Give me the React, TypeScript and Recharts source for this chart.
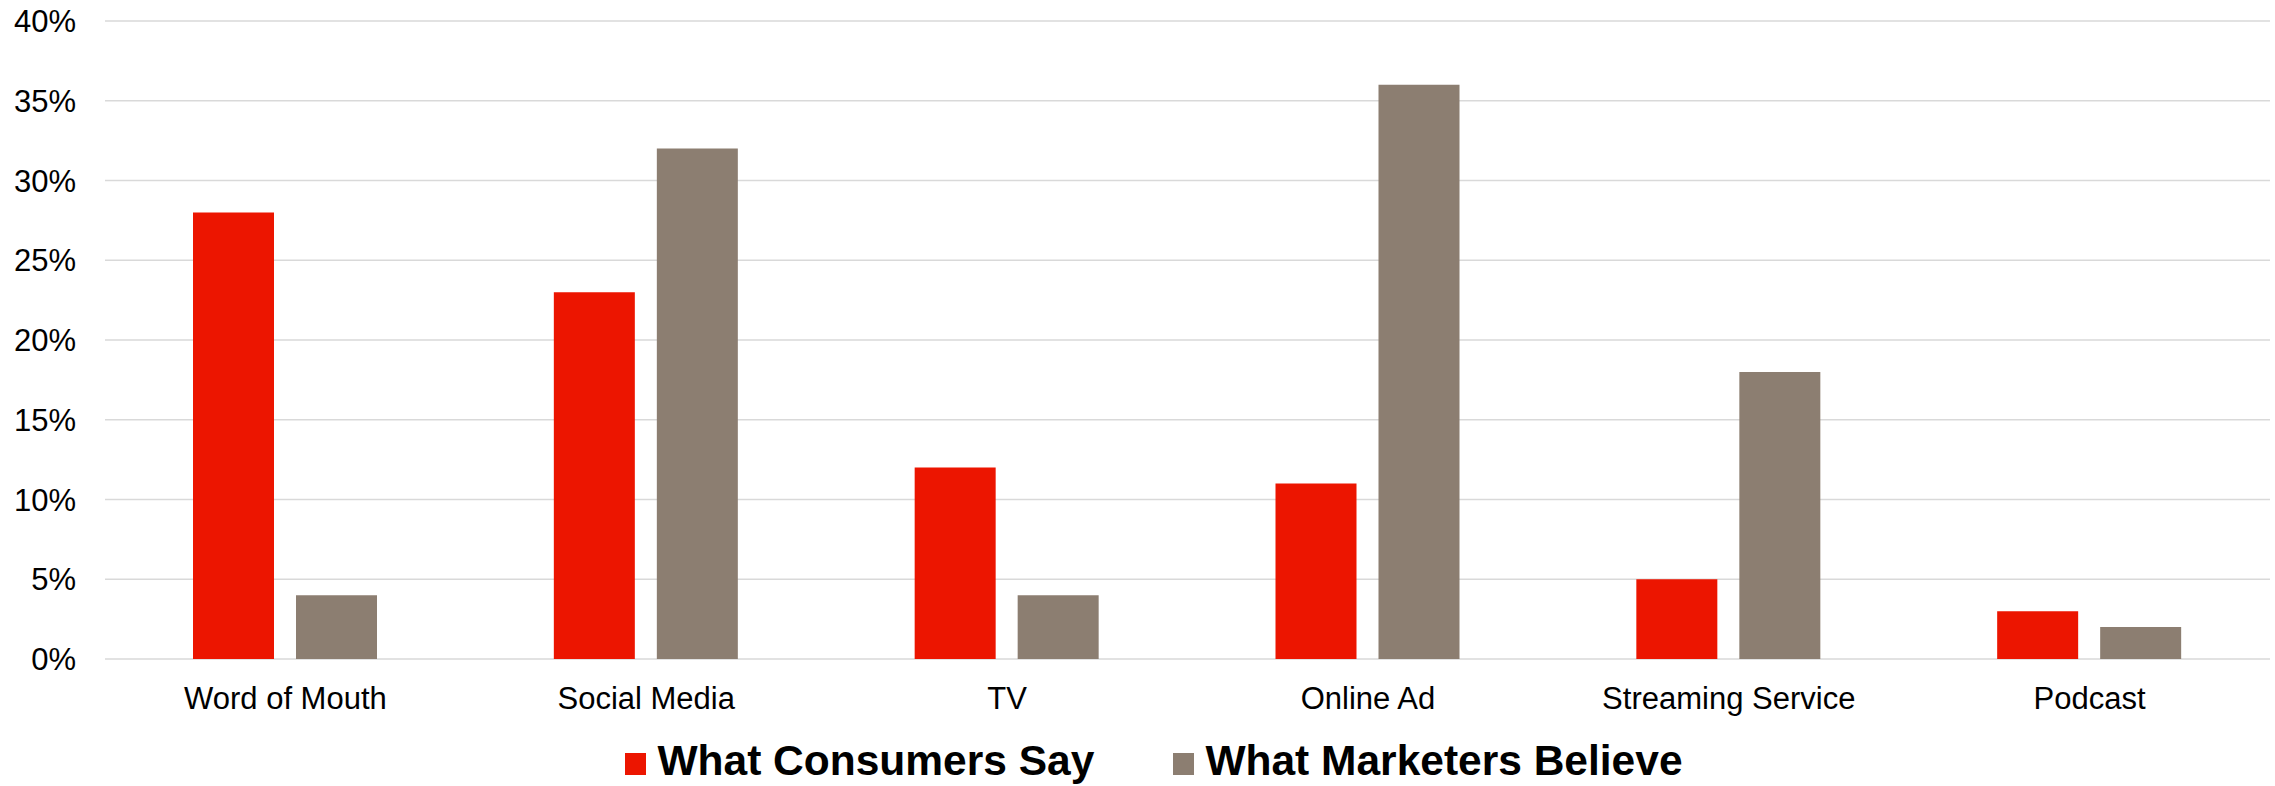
import React from "react";
import { BarChart, Bar, XAxis, YAxis, CartesianGrid, Legend } from "recharts";

const channels = ["Word of Mouth", "Social Media", "TV", "Online Ad", "Streaming Service", "Podcast"];
const consumersSay = [28, 23, 12, 11, 5, 3];
const marketersBelieve = [4, 32, 4, 36, 18, 2];
const yTicks = [0, 5, 10, 15, 20, 25, 30, 35, 40];

const RED = "#EC1500";
const TAUPE = "#8C7E71";
const FONT = "'Liberation Sans', Arial, sans-serif";

const data = channels.map((name, i) => ({
  name,
  consumers: consumersSay[i],
  marketers: marketersBelieve[i],
}));

const renderLegend = (props: any) => {
  const { payload } = props;
  return (
    <div
      style={{
        display: "flex",
        justifyContent: "center",
        paddingLeft: 33,
        fontFamily: FONT,
      }}
    >
      {payload.map((entry: any, i: number) => (
        <div
          key={entry.value}
          style={{ display: "flex", alignItems: "flex-start", marginLeft: i === 0 ? 0 : 79 }}
        >
          <div style={{ width: 21, height: 22, marginTop: 13, marginRight: 11, background: entry.color }} />
          <span style={{ fontSize: 42.5, lineHeight: "42px", fontWeight: 700, color: "#000" }}>
            {entry.value}
          </span>
        </div>
      ))}
    </div>
  );
};

export default function App() {
  return (
    <div style={{ position: "absolute", left: 0, top: 0, background: "#fff" }}>
      <BarChart
        width={2275}
        height={786}
        data={data}
        margin={{ top: 21, right: 5, left: 0, bottom: 67 }}
        barSize={81}
        barGap={22}
      >
        <CartesianGrid horizontal vertical={false} stroke="#D9D9D9" strokeWidth={1.5} />
        <XAxis
          dataKey="name"
          axisLine={false}
          tickLine={false}
          tickSize={0}
          tickMargin={28}
          height={60}
          interval={0}
          tick={{ fill: "#000", fontSize: 31, fontFamily: FONT }}
        />
        <YAxis
          domain={[0, 40]}
          ticks={yTicks}
          interval={0}
          width={105}
          axisLine={false}
          tickLine={false}
          tickSize={0}
          tickMargin={29}
          tickFormatter={(v: number) => `${v}%`}
          tick={{ fill: "#000", fontSize: 31, fontFamily: FONT }}
        />
        <Legend
          layout="horizontal"
          align="center"
          verticalAlign="middle"
          wrapperStyle={{ top: 740, left: 0, width: 2275 }}
          content={renderLegend}
        />
        <Bar dataKey="consumers" name="What Consumers Say" fill={RED} isAnimationActive={false} />
        <Bar dataKey="marketers" name="What Marketers Believe" fill={TAUPE} isAnimationActive={false} />
      </BarChart>
    </div>
  );
}
